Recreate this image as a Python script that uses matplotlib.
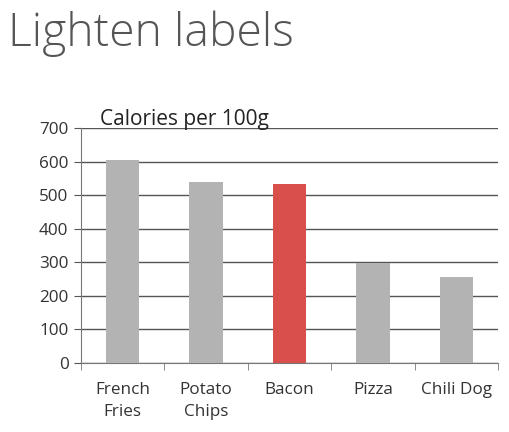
import matplotlib
matplotlib.use("Agg")
import matplotlib.pyplot as plt
import numpy as np

plt.rcParams['font.family'] = ['Open Sans', 'DejaVu Sans']

categories = ["French\nFries", "Potato\nChips", "Bacon", "Pizza", "Chili Dog"]
calories = [604, 540, 532, 297, 257]
highlight = "Bacon"
y_ticks = [0, 100, 200, 300, 400, 500, 600, 700]

fig = plt.figure(figsize=(5.1, 4.32), dpi=100)
ax = fig.add_axes([81 / 510, 1 - 363 / 432, (498 - 81) / 510, (363 - 128) / 432])

x = np.arange(len(categories))
colors = ["#d94f4c" if c == highlight else "#b3b3b3" for c in categories]
ax.bar(x, calories, width=0.4, color=colors, zorder=3)

ax.set_xlim(-0.5, len(categories) - 0.5)
ax.set_ylim(0, 700)
ax.set_yticks(y_ticks)
ax.set_xticks(x)
ax.set_xticklabels(categories, fontsize=12.3, color="#333333", linespacing=1.45)
ax.tick_params(axis='x', length=0, pad=14)
ax.set_xticks(np.arange(len(categories) + 1) - 0.5, minor=True)
ax.tick_params(axis='x', which='minor', length=5, color="#777777", direction='out')
ax.tick_params(axis='y', length=5, color="#555555", labelsize=12.3, labelcolor="#333333", pad=4)

ax.grid(axis='y', color="#555555", linewidth=1, zorder=0)
for s in ["top", "right"]:
    ax.spines[s].set_visible(False)
ax.spines["left"].set_color("#777777")
ax.spines["bottom"].set_color("#777777")

fig.text(8 / 510, 1 - 46 / 432, "Lighten labels", fontsize=33.3, fontweight='light',
         color="#555555", ha='left', va='baseline')
ax.text(100 / 510, 1 - 125 / 432, "Calories per 100g", transform=fig.transFigure,
        fontsize=15, color="#222222", ha='left', va='baseline')

fig.savefig("out.png", dpi=100)
